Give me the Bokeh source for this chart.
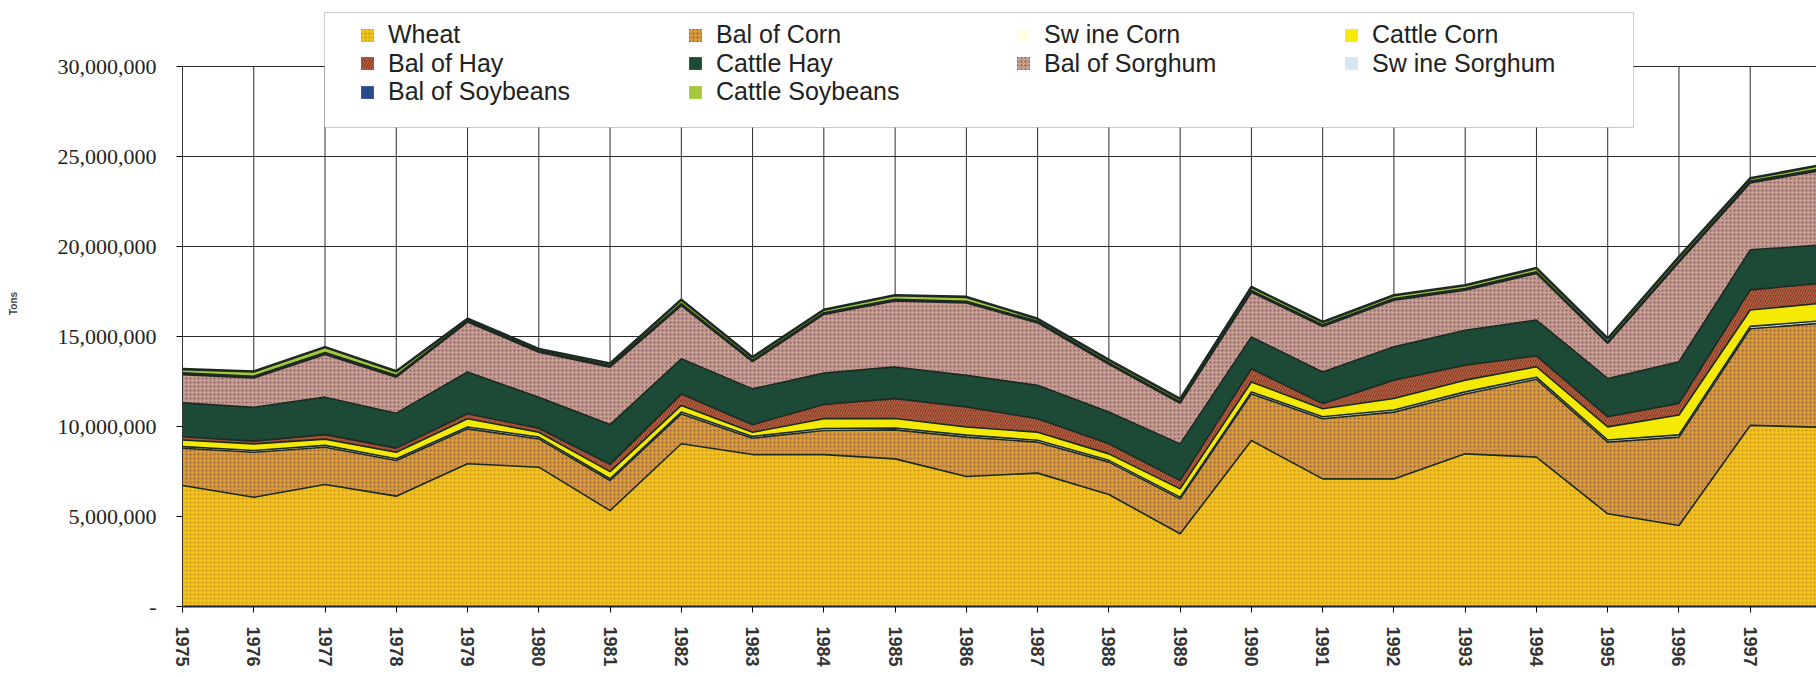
from bokeh.plotting import figure
from bokeh.models import (ColumnDataSource, FixedTicker, NumeralTickFormatter, Legend,
                          LegendItem, Range1d, BoxAnnotation)
from bokeh.transform import stack
from bokeh.embed import file_html
from bokeh.resources import INLINE

years = list(range(1975, 1999))
wheat = [6720000, 6070000, 6780000, 6130000, 7930000, 7740000, 5330000, 9040000, 8440000, 8440000,
         8200000, 7220000, 7410000, 6220000, 4040000, 9220000, 7090000, 7090000, 8480000, 8300000,
         5150000, 4500000, 10060000, 9960000]
bal_corn = [2070000, 2500000, 2070000, 1980000, 1940000, 1570000, 1670000, 1660000, 910000, 1340000,
            1610000, 2190000, 1720000, 1800000, 1940000, 2590000, 3340000, 3710000, 3330000, 4320000,
            3980000, 4910000, 5370000, 5780000]
swine_corn = [90000, 95000, 100000, 100000, 105000, 100000, 95000, 100000, 100000, 105000,
              110000, 110000, 105000, 100000, 95000, 110000, 110000, 115000, 115000, 120000,
              120000, 125000, 130000, 130000]
cattle_corn = [370000, 370000, 350000, 360000, 460000, 270000, 400000, 370000, 230000, 550000,
               520000, 450000, 450000, 360000, 460000, 550000, 450000, 640000, 650000, 580000,
               730000, 1100000, 910000, 980000]
bal_hay = [180000, 150000, 250000, 230000, 270000, 220000, 400000, 630000, 420000, 790000,
           1110000, 1110000, 750000, 560000, 460000, 740000, 280000, 1020000, 830000, 600000,
           560000, 650000, 1120000, 1110000]
cattle_hay = [1880000, 1880000, 2080000, 1940000, 2320000, 1730000, 2210000, 1960000, 1990000, 1740000,
              1760000, 1760000, 1850000, 1760000, 2040000, 1760000, 1760000, 1850000, 1940000, 1990000,
              2130000, 2310000, 2220000, 2130000]
bal_sorghum = [1570000, 1630000, 2370000, 2000000, 2780000, 2500000, 3190000, 2960000, 1510000, 3260000,
               3660000, 4020000, 3470000, 2650000, 2260000, 2490000, 2530000, 2590000, 2220000, 2590000,
               1950000, 5530000, 3720000, 4140000]
swine_sorghum = [40000, 40000, 45000, 40000, 40000, 35000, 40000, 45000, 35000, 40000,
                 40000, 40000, 35000, 35000, 30000, 40000, 35000, 40000, 40000, 40000,
                 35000, 40000, 40000, 40000]
bal_soybeans = [60000, 60000, 65000, 60000, 40000, 45000, 50000, 60000, 55000, 55000,
                60000, 60000, 55000, 55000, 50000, 60000, 55000, 60000, 60000, 60000,
                55000, 60000, 60000, 60000]
cattle_soybeans = [210000, 260000, 300000, 230000, 100000, 100000, 110000, 215000, 160000, 165000,
                   220000, 240000, 140000, 160000, 160000, 190000, 160000, 180000, 180000, 200000,
                   180000, 200000, 160000, 200000]

series_keys = ["wheat", "bal_corn", "swine_corn", "cattle_corn", "bal_hay", "cattle_hay",
               "bal_sorghum", "swine_sorghum", "bal_soybeans", "cattle_soybeans"]
series_labels = ["Wheat", "Bal of Corn", "Sw ine Corn", "Cattle Corn", "Bal of Hay", "Cattle Hay",
                 "Bal of Sorghum", "Sw ine Sorghum", "Bal of Soybeans", "Cattle Soybeans"]
y_ticks = [0, 5000000, 10000000, 15000000, 20000000, 25000000, 30000000]
Y_MAX = 30000000

source = ColumnDataSource(dict(
    year=years, wheat=wheat, bal_corn=bal_corn, swine_corn=swine_corn, cattle_corn=cattle_corn,
    bal_hay=bal_hay, cattle_hay=cattle_hay, bal_sorghum=bal_sorghum, swine_sorghum=swine_sorghum,
    bal_soybeans=bal_soybeans, cattle_soybeans=cattle_soybeans))

styles = {
    "wheat": dict(fill_color="#EEC41C", hatch_pattern="dot", hatch_color="#D08A26", hatch_scale=4, hatch_weight=1.2),
    "bal_corn": dict(fill_color="#D69A3C", hatch_pattern="dot", hatch_color="#8E5A44", hatch_scale=4, hatch_weight=1.2),
    "swine_corn": dict(fill_color="#FFFFE4"),
    "cattle_corn": dict(fill_color="#F4EA06"),
    "bal_hay": dict(fill_color="#6A4030", hatch_pattern="right_diagonal_line", hatch_color="#C05A3A", hatch_scale=5, hatch_weight=1.5),
    "cattle_hay": dict(fill_color="#1D4A36"),
    "bal_sorghum": dict(fill_color="#C49E8C", hatch_pattern="dot", hatch_color="#8A5468", hatch_scale=4, hatch_weight=1.2),
    "swine_sorghum": dict(fill_color="#D6E6F2"),
    "bal_soybeans": dict(fill_color="#2A4A8E"),
    "cattle_soybeans": dict(fill_color="#A6C83E"),
}

# layout (pixels): frame from x=182 to 1816, from y=0 to the x axis at y=606; 540 px = 30,000,000
FRAME_LEFT, FRAME_W, FRAME_H = 182, 1634, 606
X_END = 1997.93
PX_PER_YEAR = FRAME_W / (X_END - 1975)
TONS_PER_PX = Y_MAX / 540

def px_to_x(px):
    return 1975 + (px - FRAME_LEFT) / PX_PER_YEAR

def py_to_y(py):
    return (FRAME_H - py) * TONS_PER_PX

p = figure(width=1816, height=677, output_backend="svg", toolbar_location=None,
           x_range=Range1d(1975, X_END), y_range=Range1d(0, FRAME_H * TONS_PER_PX),
           min_border_left=FRAME_LEFT, min_border_right=0, min_border_top=0, min_border_bottom=71,
           background_fill_color="white", border_fill_color="white")

# vertical grid lines, only up to the 30,000,000 line
grid_src = ColumnDataSource(dict(x=years, y0=[0] * len(years), y1=[Y_MAX] * len(years)))
p.segment(x0="x", x1="x", y0="y0", y1="y1", source=grid_src, line_color="#2A2A2A",
          line_width=1, level="underlay")

items = []
for i, key in enumerate(series_keys):
    r = p.varea(x="year", y1=stack(*series_keys[:i]), y2=stack(*series_keys[:i + 1]),
                source=source, **styles[key])
    items.append(LegendItem(label=series_labels[i], renderers=[r]))

for i, key in enumerate(series_keys):
    lw = 2.6 if i == len(series_keys) - 1 else 1.6
    p.line(x="year", y=stack(*series_keys[:i + 1]), source=source,
           line_color="#1C2A22", line_width=lw)

# axes
p.xaxis.ticker = FixedTicker(ticks=years)
p.xaxis.major_label_orientation = "vertical"
p.xaxis.major_label_text_font = "Liberation Sans"
p.xaxis.major_label_text_font_style = "bold"
p.xaxis.major_label_text_font_size = "18px"
p.xaxis.major_label_text_color = "#333333"
p.xaxis.major_label_standoff = 14
p.xaxis.major_tick_out = 6
p.xaxis.major_tick_in = 0
p.xaxis.minor_tick_line_color = None
p.xaxis.axis_line_color = "#1A2248"
p.xaxis.axis_line_width = 2

p.yaxis.ticker = FixedTicker(ticks=y_ticks)
p.yaxis.bounds = (0, Y_MAX)
p.yaxis.formatter = NumeralTickFormatter(format="0,0")
p.yaxis.major_label_overrides = {0: "-"}
p.yaxis.major_label_text_font = "Liberation Serif"
p.yaxis.major_label_text_font_size = "22px"
p.yaxis.major_label_text_color = "#222222"
p.yaxis.major_label_standoff = 20
p.yaxis.major_tick_out = 6
p.yaxis.major_tick_in = 0
p.yaxis.minor_tick_line_color = None
p.yaxis.axis_line_color = "#333333"
p.yaxis.axis_label = "Tons"
p.yaxis.axis_label_text_font = "Liberation Sans"
p.yaxis.axis_label_text_font_style = "bold"
p.yaxis.axis_label_text_font_size = "10px"
p.yaxis.axis_label_text_color = "#444444"
p.yaxis.axis_label_standoff = 36

p.xgrid.grid_line_color = None
p.ygrid.grid_line_color = "#2A2A2A"
p.ygrid.grid_line_width = 1
p.outline_line_color = None

# legend box (white panel with a thin border), then the legend rows on top of it
box = BoxAnnotation(left=px_to_x(324), right=px_to_x(1633), top=py_to_y(12), bottom=py_to_y(127),
                    fill_color="white", fill_alpha=1.0, line_color="#555555", line_width=1)
p.add_layout(box)

# one legend per row so the rows can sit as close together as in the original
row_bottoms = [49, 77.5, 106]          # pixel y of each row's lower edge
for r_i, bottom in enumerate(row_bottoms):
    row_items = items[r_i * 4:(r_i + 1) * 4]
    leg = Legend(items=row_items, location=(177, FRAME_H - bottom), orientation="horizontal",
                 label_text_font="Liberation Sans", label_text_font_size="25px",
                 label_text_color="#222222", glyph_width=16, glyph_height=16,
                 label_standoff=13, spacing=0, padding=0, label_width=299, label_height=20,
                 border_line_color=None, background_fill_alpha=0.0, margin=0)
    p.add_layout(leg)

open("out.html", "w").write(file_html(p, INLINE))
